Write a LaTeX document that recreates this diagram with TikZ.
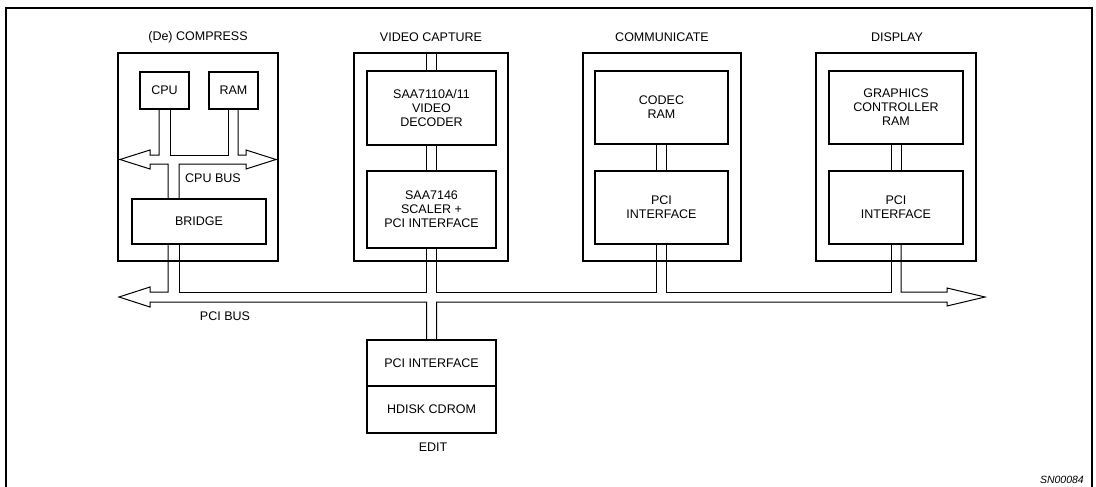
\documentclass[tikz,border=0pt]{standalone}
\usepackage{fontspec}
\setmainfont{Liberation Sans}
\usetikzlibrary{calc}
\begin{document}
\begin{tikzpicture}[x=1pt,y=-1pt,
  box/.style={draw, line width=1.8pt, inner sep=0pt, align=center, font=\fontsize{12.5}{14}\selectfont},
  wire/.style={line width=1pt, line join=miter},
  lbl/.style={inner sep=0pt, font=\fontsize{12.5}{14}\selectfont}]
\useasboundingbox (0,0) rectangle (1096,487);
% frame
\draw[line width=1.8pt] (6,487) -- (6,8) -- (1092,8) -- (1092,487);

% outer boxes
\node[box, minimum width=160, minimum height=208] (cmpo) at (198,157) {};
\node[box, minimum width=154, minimum height=208] (vido) at (431,157) {};
\node[box, minimum width=158, minimum height=208] (como) at (662,157) {};
\node[box, minimum width=160, minimum height=208] (diso) at (896,157) {};

% titles
\node[lbl] (cmpt) at (198,37) {(De) COMPRESS};
\node[lbl] (vidt) at (431,37) {VIDEO CAPTURE};
\node[lbl] (comt) at (662,37) {COMMUNICATE};
\node[lbl] (dist) at (897,37) {DISPLAY};

% compress
\node[box, minimum width=49, minimum height=37] (cpu) at (164.5,90.5) {CPU};
\node[box, minimum width=49, minimum height=37] (ram) at (233.5,90.5) {RAM};
\node[box, minimum width=134, minimum height=45] (bridge) at (199,221.5) {BRIDGE};
\node[lbl] (cpubus) at (213,178) {CPU BUS};

% video
\node[box, minimum width=129, minimum height=74] (dec) at (431.5,108) {SAA7110A/11\\VIDEO\\DECODER};
\node[box, minimum width=129, minimum height=77] (scl) at (431.5,209.5) {SAA7146\\SCALER +\\PCI INTERFACE};

% communicate
\node[box, minimum width=133, minimum height=73] (codec) at (661.5,107.5) {CODEC\\RAM};
\node[box, minimum width=133, minimum height=73] (cpci) at (661.5,207.5) {PCI\\INTERFACE};

% display
\node[box, minimum width=134, minimum height=73] (gfx) at (896,107.5) {GRAPHICS\\CONTROLLER\\RAM};
\node[box, minimum width=134, minimum height=73] (dpci) at (896,207.5) {PCI\\INTERFACE};

% edit
\node[box, minimum width=129, minimum height=46] (epci) at (431.5,363) {PCI INTERFACE};
\node[box, minimum width=129, minimum height=47] (ehd) at (431.5,409.5) {HDISK CDROM};
\node[lbl] (edit) at (433,447) {EDIT};

\node[lbl] (pcibus) at (225,316) {PCI BUS};
\node[inner sep=0pt, anchor=east, font=\fontsize{10.5}{12}\selectfont\itshape] (sn) at (1084,480) {SN00084};

% CPU bus
\draw[wire] ($(cpu.south)+(-5.5,0)$) |- (150,155) -- (150,150) -- (120,159.5) -- (150,169) -- (150,164) -| ($(bridge.north)+(-31,0)$);
\draw[wire] ($(cpu.south)+(5.5,0)$) -- ++(0,46) -| ($(ram.south)+(-5.5,0)$);
\draw[wire] ($(ram.south)+(4.5,0)$) |- (246,155) -- (246,150) -- (276,159.5) -- (246,169) -- (246,164) -| ($(bridge.north)+(-20,0)$);

% video internal stems
\draw[wire] ($(dec.north)+(-5,0)$) -- ++(0,-18);
\draw[wire] ($(dec.north)+(5,0)$) -- ++(0,-18);
\draw[wire] ($(dec.south)+(-5,0)$) -- ($(scl.north)+(-5,0)$);
\draw[wire] ($(dec.south)+(5,0)$) -- ($(scl.north)+(5,0)$);
\draw[wire] ($(codec.south)+(-5,0)$) -- ($(cpci.north)+(-5,0)$);
\draw[wire] ($(codec.south)+(5,0)$) -- ($(cpci.north)+(5,0)$);
\draw[wire] ($(gfx.south)+(-5,0)$) -- ($(dpci.north)+(-5,0)$);
\draw[wire] ($(gfx.south)+(5,0)$) -- ($(dpci.north)+(5,0)$);

% PCI bus
\draw[wire] ($(bridge.south)+(-31,0)$) |- (150,292) -- (150,287) -- (119,297) -- (150,307) -- (150,302) -| ($(epci.north)+(-5,0)$);
\draw[wire] ($(bridge.south)+(-20,0)$) -- ++(0,48) -| ($(scl.south)+(-5,0)$);
\draw[wire] ($(scl.south)+(5,0)$) -- ++(0,44) -| ($(cpci.south)+(-5,0)$);
\draw[wire] ($(cpci.south)+(5,0)$) -- ++(0,48) -| ($(dpci.south)+(-5,0)$);
\draw[wire] ($(dpci.south)+(5,0)$) |- (947,292) -- (947,288) -- (985,297) -- (947,306) -- (947,302) -| ($(epci.north)+(5,0)$);
\end{tikzpicture}
\end{document}
